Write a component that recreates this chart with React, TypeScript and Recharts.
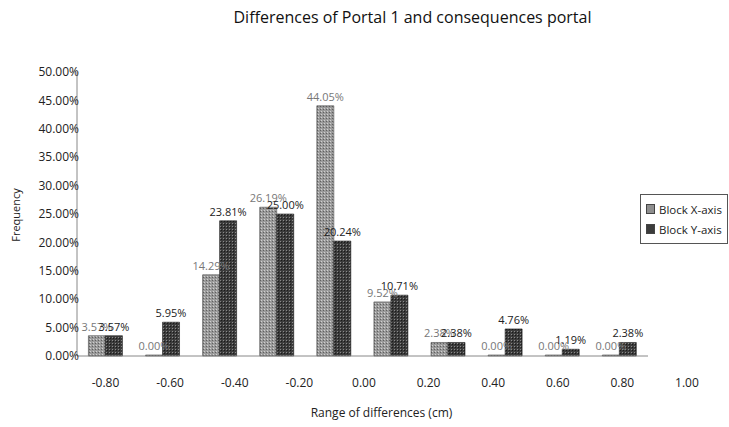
import { BarChart, Bar, XAxis, YAxis, Legend, LabelList } from 'recharts'

const categories = ['-0.80', '-0.60', '-0.40', '-0.20', '0.00', '0.20', '0.40', '0.60', '0.80', '1.00']
const blockX = [3.57, 0, 14.29, 26.19, 44.05, 9.52, 2.38, 0, 0, 0]
const blockY = [3.57, 5.95, 23.81, 25.0, 20.24, 10.71, 2.38, 4.76, 1.19, 2.38]
const yTicks = [0, 5, 10, 15, 20, 25, 30, 35, 40, 45, 50]
const edgeTicks = [1, 2, 3, 4, 5, 6, 7, 8, 9]

const data = categories.map((c, i) => ({ name: c, x: blockX[i], y: blockY[i] }))

const FONT = '"Open Sans", "Noto Sans", sans-serif'
const pct = (v: any) => `${Number(v).toFixed(2)}%`

// category labels in the original drift a bit to the right
function XTick({ x, y, payload, index }: any) {
  return (
    <text x={x + index * 7.5} y={y + 23} textAnchor="middle" fontSize={12} fill="#222" fontFamily={FONT}>
      {payload.value}
    </text>
  )
}

const makeLabel = (color: string) => (props: any) => {
  const { x, y, width, value } = props
  return (
    <text x={Number(x) + Number(width) / 2} y={Number(y) - 5} textAnchor="middle" fontSize={11} fill={color} fontFamily={FONT}>
      {pct(value)}
    </text>
  )
}

function LegendBox({ payload }: any) {
  return (
    <div style={{ border: '1px solid #555', padding: '4px 0 4px 5px', fontSize: 11.5, fontFamily: FONT, color: '#222', background: '#fff' }}>
      {(payload ?? []).map((p: any) => (
        <div key={p.value} style={{ display: 'flex', alignItems: 'center', height: 20 }}>
          <span style={{ display: 'inline-block', width: 7, height: 8, background: p.color === 'url(#patX)' ? '#8e8e8e' : '#3c3c3c', marginRight: 4, border: '1px solid #444' }} />
          {p.value}
        </div>
      ))}
    </div>
  )
}

export default function App() {
  return (
    <div style={{ position: 'absolute', left: 0, top: 0, width: 729, height: 427, background: '#fff', fontFamily: FONT }}>
      <div style={{ position: 'absolute', left: 0, width: 729, top: 6, textAlign: 'center', paddingLeft: 96, boxSizing: 'border-box', fontSize: 16, color: '#111' }}>
        Differences of Portal 1 and consequences portal
      </div>
      <div style={{ position: 'absolute', left: 0, width: 729, top: 404, textAlign: 'center', paddingLeft: 34, boxSizing: 'border-box', fontSize: 12, color: '#222' }}>
        Range of differences (cm)
      </div>
      <div style={{ position: 'absolute', left: 15, top: 215, transform: 'translate(-50%, -50%) rotate(-90deg)', fontSize: 11, color: '#222' }}>
        Frequency
      </div>
      <BarChart
        width={729}
        height={427}
        data={data}
        margin={{ top: 72, right: -7, bottom: 0, left: 0 }}
        barCategoryGap="20%"
        barGap={0}
      >
        <defs>
          <pattern id="patX" width="3" height="3" patternUnits="userSpaceOnUse">
            <rect width="3" height="3" fill="#9a9a9a" />
            <rect x="0" y="0" width="1" height="1" fill="#d0d0d0" />
            <rect x="2" y="1" width="1" height="1" fill="#606060" />
          </pattern>
          <pattern id="patY" width="3" height="3" patternUnits="userSpaceOnUse">
            <rect width="3" height="3" fill="#3c3c3c" />
            <rect x="1" y="1" width="1" height="1" fill="#8a8a8a" />
            <rect x="2" y="2" width="1" height="1" fill="#1a1a1a" />
          </pattern>
        </defs>
        <XAxis
          dataKey="name"
          tick={<XTick />}
          tickLine={false}
          axisLine={{ stroke: '#888' }}
          interval={0}
          height={71}
        />
        <XAxis
          xAxisId="edges"
          type="number"
          domain={[0, 10]}
          ticks={edgeTicks}
          tick={false}
          tickSize={4}
          tickLine={{ stroke: '#888' }}
          axisLine={false}
          height={0}
        />
        <YAxis
          domain={[0, 50]}
          ticks={yTicks}
          tickFormatter={pct}
          width={77}
          tickLine={false}
          tickSize={0}
          tickMargin={-2}
          axisLine={{ stroke: '#888' }}
          tick={{ fill: '#222', fontSize: 12, fontFamily: FONT }}
        />
        <Legend
          layout="vertical"
          align="right"
          verticalAlign="middle"
          content={<LegendBox />}
          wrapperStyle={{ top: 194, right: 1, width: 88 }}
        />
        <Bar dataKey="x" name="Block X-axis" fill="url(#patX)" stroke="#444" strokeWidth={0.6} minPointSize={1} isAnimationActive={false}>
          <LabelList dataKey="x" content={makeLabel('#777')} />
        </Bar>
        <Bar dataKey="y" name="Block Y-axis" fill="url(#patY)" stroke="#222" strokeWidth={0.6} isAnimationActive={false}>
          <LabelList dataKey="y" content={makeLabel('#222')} />
        </Bar>
      </BarChart>
    </div>
  )
}
